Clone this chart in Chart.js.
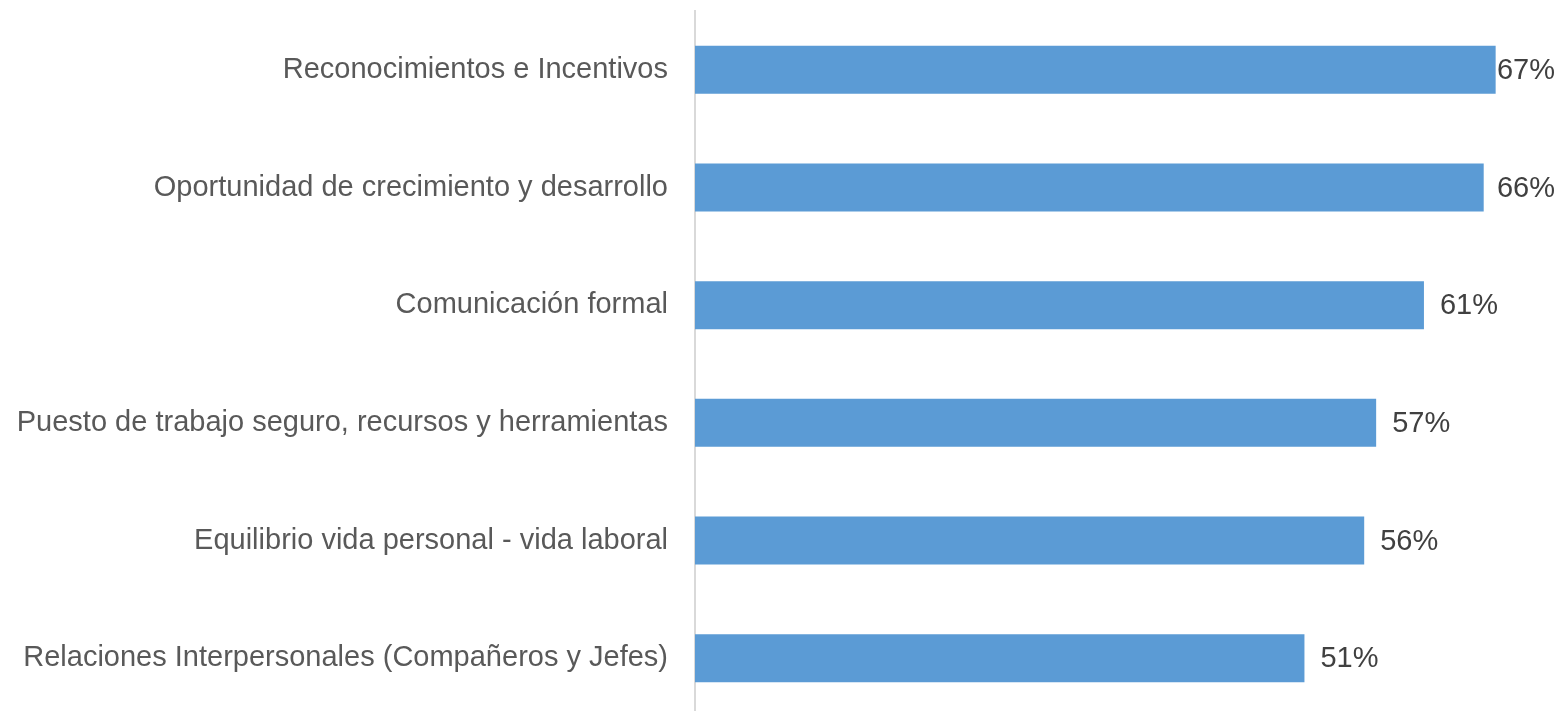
<!DOCTYPE html>
<html>
<head>
<meta charset="utf-8">
<script src="https://cdn.jsdelivr.net/npm/chart.js@4"></script>
<style>
  html, body { margin: 0; padding: 0; background: #fff; overflow: hidden; }
  #wrap { width: 1560px; height: 717px; position: relative; }
</style>
</head>
<body>
<div id="wrap"><canvas id="c"></canvas></div>
<script>
const categories = [
  "Reconocimientos e Incentivos",
  "Oportunidad de crecimiento y desarrollo",
  "Comunicación formal",
  "Puesto de trabajo seguro, recursos y herramientas",
  "Equilibrio vida personal - vida laboral",
  "Relaciones Interpersonales (Compañeros y Jefes)"
];
const values = [0.67, 0.66, 0.61, 0.57, 0.56, 0.51];
const valueLabels = ["67%", "66%", "61%", "57%", "56%", "51%"];

const FONT = "'Liberation Sans', Arial, sans-serif";

const dataLabelPlugin = {
  id: 'dataLabels',
  afterDatasetsDraw(chart) {
    const ctx = chart.ctx;
    const meta = chart.getDatasetMeta(0);
    ctx.save();
    ctx.font = "29px " + FONT;
    ctx.fillStyle = "#404040";
    ctx.textBaseline = "middle";
    ctx.textAlign = "left";
    meta.data.forEach((bar, i) => {
      const txt = valueLabels[i];
      const w = ctx.measureText(txt).width;
      let x = bar.x + 16;
      const maxX = chart.width - 5 - w;
      if (x > maxX) x = maxX;
      ctx.fillText(txt, x, bar.y + 1);
    });
    ctx.restore();
  }
};

new Chart(document.getElementById('c'), {
  type: 'bar',
  data: {
    labels: categories,
    datasets: [{
      data: values,
      backgroundColor: '#5B9BD5',
      borderWidth: 0,
      categoryPercentage: 1.0,
      barPercentage: 0.408
    }]
  },
  options: {
    indexAxis: 'y',
    responsive: true,
    maintainAspectRatio: false,
    animation: false,
    layout: { padding: { top: 11, right: 28.5, bottom: 0, left: 0 } },
    plugins: { legend: { display: false }, tooltip: { enabled: false } },
    scales: {
      x: {
        display: false,
        min: 0,
        max: 0.7
      },
      y: {
        afterFit(scale) {
          scale.width = 695;
          scale.paddingTop = 0;
          scale.paddingBottom = 0;
        },
        grid: { display: false, drawTicks: false },
        border: { display: true, color: '#D9D9D9', width: 2 },
        ticks: {
          color: '#595959',
          font: { family: FONT, size: 29 },
          padding: 27
        }
      }
    }
  },
  plugins: [dataLabelPlugin]
});
</script>
</body>
</html>
